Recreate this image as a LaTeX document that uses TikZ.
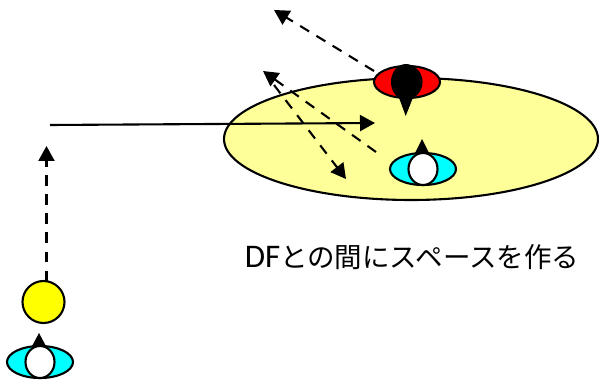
\documentclass[tikz,border=0pt]{standalone}
\usepackage{fontspec}
\setmainfont{Carlito}
\newfontfamily\cjk{Noto Sans CJK JP}
\usetikzlibrary{arrows.meta}
\definecolor{paleyellow}{RGB}{255,255,153}
\definecolor{eyecyan}{RGB}{0,255,255}
\definecolor{sunyellow}{RGB}{255,255,0}
\definecolor{eyered}{RGB}{255,0,0}
\tikzset{
  x=1pt,y=-1pt,
  outl/.style={draw=black,line width=2.1pt},
  arr/.style={line width=2.1pt,-{Triangle[length=15pt,width=16pt]}},
  dasharr/.style={arr,dash pattern=on 10.5pt off 8.5pt},
}
\newcommand{\eyeshape}[4]{% x y iris-colour lens-colour
  \draw[outl,fill=#3] (#1,#2) ellipse [x radius=33,y radius=16];
  \draw[outl,fill=#4] (#1,#2) ellipse [x radius=14.5,y radius=16];
}
\begin{document}
\begin{tikzpicture}
\useasboundingbox (0,0) rectangle (599,387);
% big ellipse
\draw[outl,fill=paleyellow] (411,139) ellipse [x radius=187,y radius=61];
% coordinates
\coordinate (a1s) at (374,71); \coordinate (a1e) at (274,10);
\coordinate (a2s) at (376,152); \coordinate (a2e) at (263,71);
\coordinate (a3s) at (274,85); \coordinate (a3e) at (346,179);
\coordinate (a4s) at (50,125); \coordinate (a4e) at (375,123);
\coordinate (a5s) at (46.5,281); \coordinate (a5e) at (46.5,146);
% arrows
\draw[dasharr] (a1s) -- (a1e);
\draw[dasharr] (a2s) -- (a2e);
\draw[dasharr] (a3s) -- (a3e);
\draw[arr] (a4s) -- (a4e);
\draw[dasharr] (a5s) -- (a5e);
% red eye
\eyeshape{407}{82}{eyered}{black}
\fill[black] (398,95) -- (405.7,116) -- (414,95) -- cycle;
\fill[black] (406,82) ellipse [x radius=15,y radius=18];
% cyan eye in ellipse
\fill[black] (414,155) -- (422,139) -- (430,155) -- cycle;
\eyeshape{423}{169}{eyecyan}{white}
% bottom-left
\node[outl,fill=sunyellow,circle,minimum size=42pt,inner sep=0pt] (sun) at (43.5,302) {};
\fill[black] (31,348) -- (39,333) -- (47,348) -- cycle;
\eyeshape{40}{362}{eyecyan}{white}
\node[inner sep=0pt,font=\fontsize{33}{36}\selectfont] (label) at (412,257) {DF{\cjk\fontsize{27.5}{30}\selectfont との間にスペースを作る}};
\end{tikzpicture}
\end{document}
